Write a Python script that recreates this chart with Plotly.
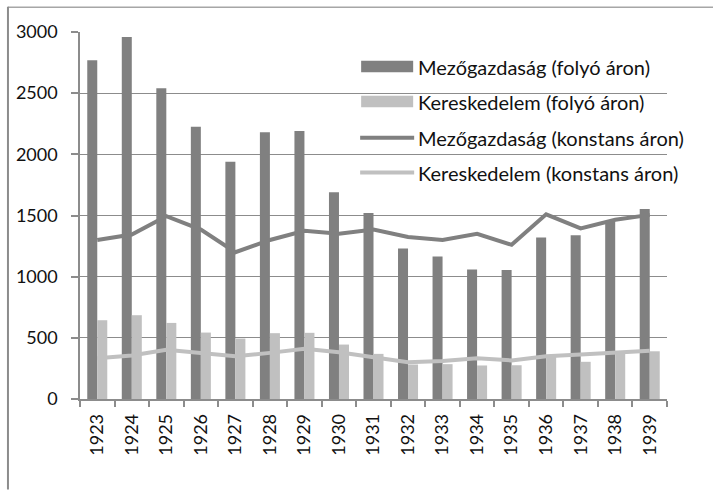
import plotly.graph_objects as go

# Annual values, 1923-1939
years = ["1923", "1924", "1925", "1926", "1927", "1928", "1929", "1930", "1931",
         "1932", "1933", "1934", "1935", "1936", "1937", "1938", "1939"]

agri_current = [2770, 2960, 2540, 2225, 1940, 2180, 2190, 1690, 1520,
                1230, 1165, 1058, 1055, 1320, 1338, 1453, 1554]
trade_current = [644, 685, 622, 543, 494, 538, 541, 445, 369,
                 282, 285, 274, 276, 345, 304, 370, 390]
agri_constant = [1300, 1345, 1495, 1385, 1200, 1300, 1375, 1350, 1385,
                 1325, 1300, 1350, 1260, 1510, 1395, 1465, 1505]
trade_constant = [333, 355, 402, 372, 350, 377, 410, 382, 345,
                  300, 310, 333, 315, 350, 363, 377, 395]

names = ["Mezőgazdaság (folyó áron)", "Kereskedelem (folyó áron)",
         "Mezőgazdaság (konstans áron)", "Kereskedelem (konstans áron)"]

DARK = "#808080"
LIGHT = "#c0c0c0"
GRID = "#8c8c8c"
FONT = "Lato"
TEXT = "#111111"

W, H = 713, 490
L, R, T, B = 80, 46.3, 32.3, 90.5
PW, PH = W - L - R, H - T - B


def px(x):
    return (x - L) / PW


def py(y):
    return (H - B - y) / PH


fig = go.Figure()
fig.add_bar(x=years, y=agri_current, name=names[0], marker_color=DARK,
            marker_line_width=0)
fig.add_bar(x=years, y=trade_current, name=names[1], marker_color=LIGHT,
            marker_line_width=0)
fig.add_scatter(x=years, y=agri_constant, name=names[2], mode="lines",
                line=dict(color=DARK, width=4))
fig.add_scatter(x=years, y=trade_constant, name=names[3], mode="lines",
                line=dict(color=LIGHT, width=4))

shapes = []
annotations = []

# outer frame (top and left edges)
shapes.append(dict(type="line", xref="paper", yref="paper",
                   x0=px(8), x1=px(713), y0=py(7.5), y1=py(7.5),
                   line=dict(color="#a6a6a6", width=1.5)))
shapes.append(dict(type="line", xref="paper", yref="paper",
                   x0=px(8), x1=px(8), y0=py(7), y1=py(490),
                   line=dict(color="#8c8c8c", width=2)))

# legend, drawn inside the plot area
rows = [67, 102, 138, 173]
for i, (name, yc) in enumerate(zip(names, rows)):
    if i < 2:
        shapes.append(dict(type="rect", xref="paper", yref="paper",
                           x0=px(361), x1=px(413), y0=py(yc - 6), y1=py(yc + 5.5),
                           fillcolor=DARK if i == 0 else LIGHT, line_width=0))
    else:
        shapes.append(dict(type="line", xref="paper", yref="paper",
                           x0=px(360), x1=px(414), y0=py(yc), y1=py(yc),
                           line=dict(color=DARK if i == 2 else LIGHT, width=4)))
    annotations.append(dict(text=name, xref="paper", yref="paper",
                            x=px(416), y=py(yc), xanchor="left", yanchor="middle",
                            showarrow=False,
                            font=dict(family=FONT, size=20, color=TEXT)))

fig.update_layout(
    width=W, height=H,
    margin=dict(l=L, r=R, t=T, b=B, pad=0),
    paper_bgcolor="white", plot_bgcolor="white",
    barmode="group", bargap=0.42, bargroupgap=0,
    showlegend=False,
    font=dict(family=FONT, size=18, color=TEXT),
    shapes=shapes, annotations=annotations,
)
fig.update_xaxes(type="category", tickson="boundaries", ticks="outside",
                 ticklen=6, tickcolor=GRID, tickwidth=1.5,
                 showline=True, linecolor=GRID, linewidth=1.5,
                 showgrid=False, tickangle=-90, ticklabelstandoff=6,
                 tickfont=dict(family=FONT, size=18, color=TEXT))
fig.update_yaxes(range=[0, 3000], dtick=500, ticks="outside", ticklen=7,
                 tickcolor=GRID, tickwidth=1.5,
                 showline=True, linecolor=GRID, linewidth=1.5,
                 showgrid=True, gridcolor=GRID, gridwidth=1,
                 zeroline=False, ticklabelstandoff=10,
                 tickfont=dict(family=FONT, size=18, color=TEXT))

fig.write_html("out.html")
